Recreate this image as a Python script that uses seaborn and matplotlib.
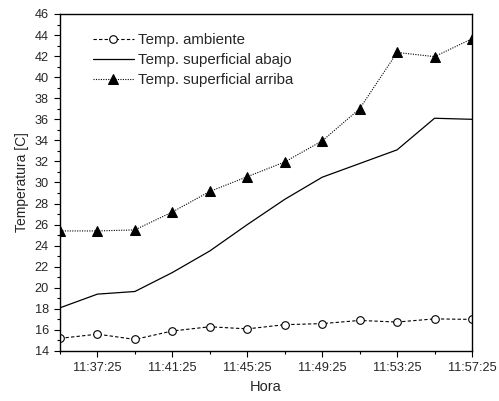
import pandas as pd
import matplotlib
matplotlib.use("Agg")
import matplotlib.pyplot as plt
import matplotlib.dates as mdates
import seaborn as sns

# --- Datos ---
horas = ["11:35:25", "11:37:25", "11:39:25", "11:41:25", "11:43:25", "11:45:25",
         "11:47:25", "11:49:25", "11:51:25", "11:53:25", "11:55:25", "11:57:25"]
temp_ambiente = [15.2, 15.6, 15.1, 15.9, 16.3, 16.1, 16.5, 16.6, 16.9, 16.75, 17.05, 17.0]
temp_abajo = [18.1, 19.4, 19.65, 21.45, 23.5, 26.0, 28.4, 30.5, 31.8, 33.1, 36.1, 36.0]
temp_arriba = [25.4, 25.4, 25.5, 27.2, 29.15, 30.55, 31.95, 33.95, 37.0, 42.35, 41.95, 43.65]

tiempo = pd.to_datetime(["2000-01-01 " + h for h in horas])

sns.set_style("ticks")
plt.rcParams["font.family"] = ["Liberation Sans", "DejaVu Sans"]

fig = plt.figure(figsize=(4.99, 4.01), dpi=100)
ax = fig.add_axes([0.1202, 0.1247, 0.8257, 0.8404])

sns.lineplot(x=tiempo, y=temp_ambiente, ax=ax, color="black", linewidth=0.8,
             linestyle=(0, (3, 2)), marker="o", markersize=5.5,
             markerfacecolor="white", markeredgecolor="black", markeredgewidth=0.8,
             label="Temp. ambiente")
sns.lineplot(x=tiempo, y=temp_abajo, ax=ax, color="black", linewidth=0.9,
             linestyle="-", label="Temp. superficial abajo")
sns.lineplot(x=tiempo, y=temp_arriba, ax=ax, color="black", linewidth=0.8,
             linestyle=(0, (1, 1.2)), marker="^", markersize=6.5,
             markerfacecolor="black", markeredgecolor="black",
             label="Temp. superficial arriba")

# --- Ejes ---
ax.set_xlim(tiempo[0], tiempo[-1])
ax.set_ylim(14, 46)
ax.set_xticks(tiempo[1::2])
ax.set_xticks(tiempo[0::2], minor=True)
ax.xaxis.set_major_formatter(mdates.DateFormatter("%H:%M:%S"))
ax.set_yticks(range(14, 47, 2))
ax.set_yticks(range(14, 47, 1), minor=True)
ax.tick_params(which="major", length=4.5, width=0.8, labelsize=9.2, color="black")
ax.tick_params(which="minor", length=2.5, width=0.8, color="black")
for s in ax.spines.values():
    s.set_visible(True)
    s.set_linewidth(1.0)
    s.set_color("black")

ax.set_xlabel("Hora", fontsize=10.5)
ax.set_ylabel("Temperatura [C]", fontsize=10)

ax.legend(loc="upper left", bbox_to_anchor=(0.055, 0.975), frameon=False,
          fontsize=10.8, handlelength=2.7, handletextpad=0.3, labelspacing=0.4,
          borderaxespad=0.3)

plt.savefig("out.png", dpi=100)
